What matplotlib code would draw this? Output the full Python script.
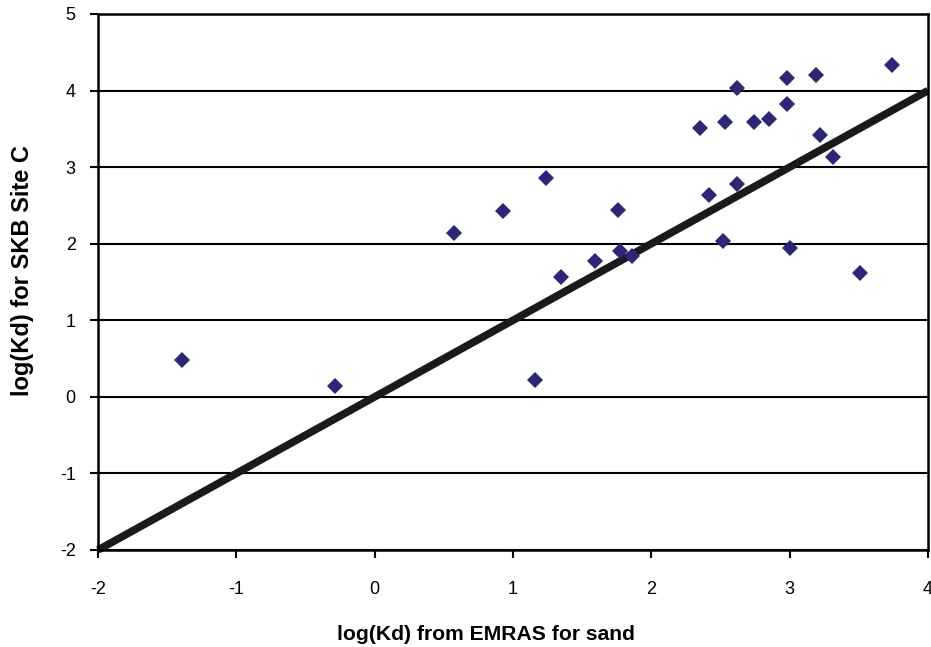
import matplotlib
matplotlib.use("Agg")
import matplotlib.pyplot as plt

plt.rcParams["font.family"] = ["Liberation Sans", "DejaVu Sans"]
plt.rcParams["axes.unicode_minus"] = False

# log(Kd) from EMRAS for sand vs log(Kd) for SKB Site C
emras_x = [-1.39, -0.29, 0.57, 0.93, 1.24, 1.16, 1.35, 1.59, 1.76, 1.77, 1.86,
           2.35, 2.42, 2.52, 2.53, 2.62, 2.62, 2.74, 2.85, 2.98, 2.98, 3.00,
           3.19, 3.22, 3.31, 3.51, 3.74]
skb_y = [0.48, 0.14, 2.14, 2.43, 2.86, 0.22, 1.56, 1.78, 2.44, 1.90, 1.84,
         3.51, 2.63, 2.03, 3.59, 4.03, 2.78, 3.59, 3.63, 3.82, 4.17, 1.94,
         4.20, 3.42, 3.13, 1.62, 4.33]

one_to_one = [-2, 4]
x_ticks = [-2, -1, 0, 1, 2, 3, 4]
y_ticks = [-2, -1, 0, 1, 2, 3, 4, 5]

fig = plt.figure(figsize=(9.31, 6.47), dpi=100)
ax = fig.add_axes([98 / 931, 1 - 550 / 647, 830 / 931, 536 / 647])

for yv in y_ticks:
    ax.axhline(yv, color="black", linewidth=1.5, zorder=1)

ax.plot(one_to_one, one_to_one, color="#1a1a1a", linewidth=5.5,
        solid_capstyle="butt", clip_on=False, zorder=2)
ax.plot(emras_x, skb_y, linestyle="none", marker="D", markersize=8.5,
        markerfacecolor="#2C2675", markeredgewidth=0, clip_on=False, zorder=3)

ax.set_xlim(-2, 4)
ax.set_ylim(-2, 5)
ax.set_xticks(x_ticks)
ax.set_yticks(y_ticks)
ax.tick_params(axis="x", direction="out", length=6, width=1.5, pad=16, labelsize=13)
ax.tick_params(axis="y", direction="out", length=6, width=1.5, pad=10, labelsize=13)
for side in ["left", "right", "top", "bottom"]:
    ax.spines[side].set_linewidth(1.8)
    ax.spines[side].set_color("black")

fig.text(486 / 931, 1 - 634 / 647, "log(Kd) from EMRAS for sand", ha="center",
         va="center", fontsize=15.2, fontweight="bold")
fig.text(23 / 931, 1 - 271 / 647, "log(Kd) for SKB Site C", ha="center",
         va="center", rotation=90, fontsize=17, fontweight="bold")

fig.savefig("out.png", dpi=100)
